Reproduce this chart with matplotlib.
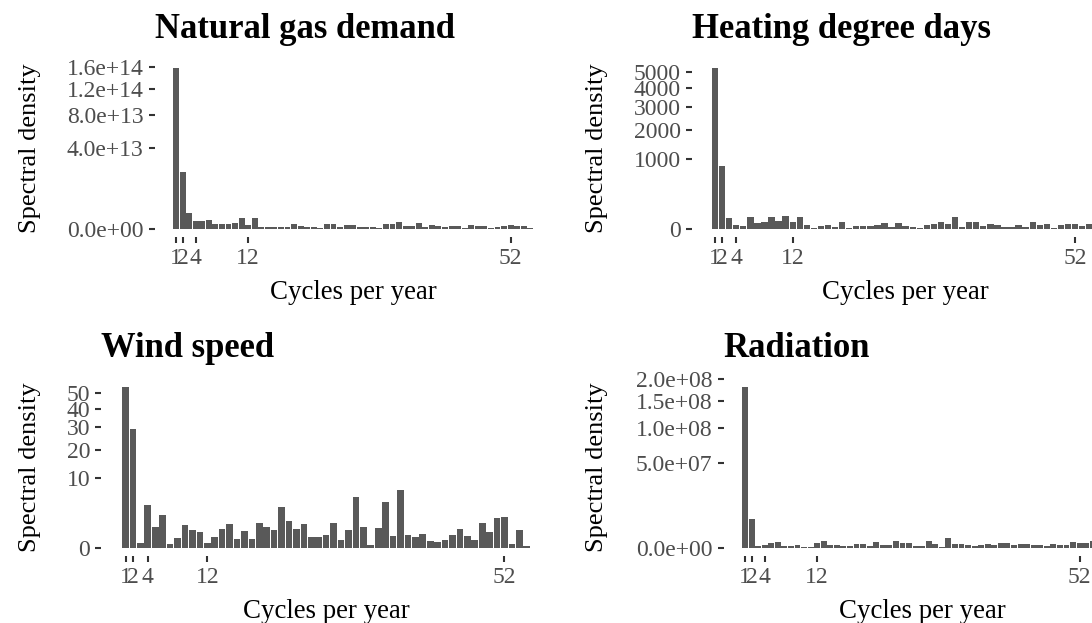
import numpy as np
import matplotlib
matplotlib.use('Agg')
import matplotlib.pyplot as plt
from matplotlib.transforms import blended_transform_factory

W, H = 1092, 623

cycles = np.arange(1, 56)
xticks = [1, 2, 4, 12, 52]

gas_demand = [1.595e14, 1.98e13, 1.58e12, 3.9e11, 3.9e11, 5.0e11, 1.3e11, 1.3e11, 1.3e11, 2.2e11,
              7.0e11, 8.3e10, 7.0e11, 1.1e10, 1.1e10, 1.5e10, 1.5e10, 2.0e10, 1.3e11, 3.0e10,
              1.1e10, 1.1e10, 4.0e9, 1.2e11, 1.2e11, 1.7e10, 8.3e10, 9.8e10, 2.5e10, 1.5e10,
              1.1e10, 3.0e9, 1.5e11, 1.5e11, 2.7e11, 3.4e10, 3.4e10, 2.0e11, 1.7e10, 8.3e10,
              5.5e10, 1.1e10, 4.4e10, 3.4e10, 4.0e9, 9.8e10, 4.4e10, 4.4e10, 3.0e9, 1.1e10,
              4.4e10, 8.3e10, 4.4e10, 3.4e10, 3.0e9]
heating_dd = [5270, 800, 23, 2.7, 1.1, 27.8, 6.5, 10, 27.8, 12,
              32.7, 8.2, 27.8, 2.7, 0.2, 1.45, 2.7, 0.36, 9.1, 0.05,
              1.45, 1.1, 1.1, 2.7, 6.5, 0.57, 6.5, 1.45, 0.57, 0.09,
              2.3, 3.8, 8.2, 5.1, 27.8, 0.36, 9.1, 8.2, 1.84, 5.1,
              2.7, 0.57, 0.82, 2.7, 0.82, 8.2, 3.3, 3.8, 0.09, 3.3,
              4.4, 5.1, 1.84, 3.8, 2.0]
wind_speed = [53.8, 29.2, 0.045, 3.78, 0.89, 2.21, 0.028, 0.194, 1.07, 0.648,
              0.51, 0.045, 0.236, 0.72, 1.16, 0.156, 0.577, 0.156, 1.26, 0.89,
              0.648, 3.43, 1.48, 0.72, 1.16, 0.236, 0.236, 0.333, 1.26, 0.122,
              0.648, 5.33, 0.89, 0.015, 0.80, 4.33, 0.283, 6.9, 0.333, 0.236,
              0.388, 0.092, 0.067, 0.122, 0.333, 0.72, 0.283, 0.122, 1.26, 0.51,
              1.83, 1.95, 0.028, 0.648, 0.004]
radiation = [1.818e8, 5.9e6, 1.95e4, 6.3e4, 1.53e5, 2.53e5, 2.8e4, 2.8e4, 6.3e4, 3.1e3,
             3.1e3, 1.75e5, 3.44e5, 6.3e4, 6.3e4, 2.8e4, 2.8e4, 1.12e5, 1.12e5, 2.8e4,
             2.53e5, 6.3e4, 6.3e4, 3.44e5, 1.6e5, 1.6e5, 2.8e4, 2.8e4, 3.44e5, 1.12e5,
             3.1e3, 6.56e5, 1.12e5, 7.8e4, 5.0e4, 2.8e4, 5.0e4, 9.4e4, 6.3e4, 1.53e5,
             1.53e5, 5.0e4, 1.12e5, 7.8e4, 6.3e4, 6.3e4, 2.8e4, 1.12e5, 6.3e4, 3.8e4,
             2.25e5, 1.32e5, 1.32e5, 3.12e5, 1.0e5]

gas_ticks = [0, 4e13, 8e13, 1.2e14, 1.6e14]
gas_labels = ['0.0e+00', '4.0e+13', '8.0e+13', '1.2e+14', '1.6e+14']
hdd_ticks = [0, 1000, 2000, 3000, 4000, 5000]
hdd_labels = ['0', '1000', '2000', '3000', '4000', '5000']
wind_ticks = [0, 10, 20, 30, 40, 50]
wind_labels = ['0', '10', '20', '30', '40', '50']
rad_ticks = [0, 5e7, 1e8, 1.5e8, 2e8]
rad_labels = ['0.0e+00', '5.0e+07', '1.0e+08', '1.5e+08', '2.0e+08']

plt.rcParams['font.family'] = ['Liberation Serif', 'DejaVu Serif']

def fwd(y):
    return np.sign(y) * np.sqrt(np.abs(y))

def inv(y):
    return np.sign(y) * y ** 2

fig = plt.figure(figsize=(W / 100, H / 100), dpi=100)

# panel rectangles in pixels: left, top, width, height ; y label x in pixels
panels = [
    ("Natural gas demand", gas_demand, gas_ticks, gas_labels, (154.7, 59.7, 396.9, 177.0), 41),
    ("Heating degree days", heating_dd, hdd_ticks, hdd_labels, (692.1, 59.7, 427.1, 177.0), 608),
    ("Wind speed", wind_speed, wind_ticks, wind_labels, (101.4, 378.7, 449.5, 177.0), 41),
    ("Radiation", radiation, rad_ticks, rad_labels, (723.7, 378.7, 396.9, 177.0), 608),
]

for title, vals, yt, yl, (l, t, w, h), lx in panels:
    ax = fig.add_axes([l / W, 1 - (t + h) / H, w / W, h / H])
    ax.bar(cycles, vals, width=0.9, color='#595959')
    ax.set_yscale('function', functions=(fwd, inv))
    smax = np.sqrt(max(vals))
    ax.set_ylim(-(0.05 * smax) ** 2, (1.05 * smax) ** 2)
    ax.set_xlim(-2.25, 58.25)
    ax.set_xticks(xticks)
    ax.set_yticks(yt)
    ax.set_yticklabels(yl)
    ax.minorticks_off()
    for s in ax.spines.values():
        s.set_visible(False)
    ax.tick_params(length=4.6, width=1.5, color='#333333', labelcolor='#4D4D4D',
                   labelsize=17, pad=3.5)
    ax.set_xlabel('Cycles per year', fontsize=19.4, labelpad=8)
    ax.set_ylabel('Spectral density', fontsize=19, color='black')
    ax.yaxis.set_label_coords(lx / W, 0.5,
                              transform=blended_transform_factory(fig.transFigure, ax.transAxes))
    ax.set_title(title, loc='left', pad=15.6, fontsize=24.9, fontweight='bold')

fig.savefig('out.png', dpi=100)
